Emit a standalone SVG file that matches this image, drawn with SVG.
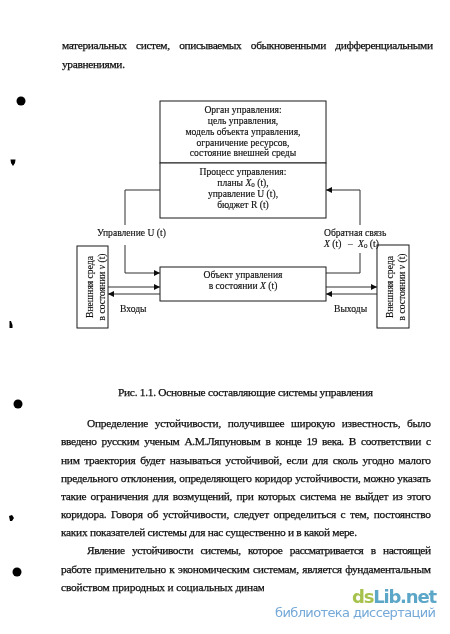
<svg xmlns="http://www.w3.org/2000/svg" width="450" height="634" viewBox="0 0 450 634">
<style>
text{font-family:"Liberation Serif","Noto Sans CJK SC",serif;fill:#111}
.p{font-size:11.4px;stroke:#111;stroke-width:.25}
.c{font-size:9.6px;text-anchor:middle;stroke:#111;stroke-width:.15}
.l{font-size:9.6px;stroke:#111;stroke-width:.15}
.b{fill:#fff;stroke:#1a1a1a;stroke-width:1}
.w{fill:none;stroke:#1a1a1a;stroke-width:.9}
.i{font-style:italic}
.s{font-size:7px}
</style>
<defs>
<marker id="a" markerWidth="7" markerHeight="6" refX="6" refY="3" orient="auto" markerUnits="userSpaceOnUse"><path d="M0 0L6 3L0 6Z" fill="#111"/></marker>
<clipPath id="cut"><rect x="0" y="575" width="264" height="25"/></clipPath>
<filter id="soft" x="0" y="0" width="100%" height="100%"><feGaussianBlur stdDeviation=".3"/></filter>
</defs>
<rect width="450" height="634" fill="#fff"/>
<g filter="url(#soft)">
<g id="page-top">
<text class="p" x="62" y="49" textLength="371" word-spacing="7">материальных систем, описываемых обыкновенными дифференциальными</text>
<text class="p" x="62" y="68" textLength="63">уравнениями.</text>
</g>
<g id="connectors">
<path class="w" d="M160 190H125V225"/>
<path class="w" d="M360 225V190H326" marker-end="url(#a)"/>
<path class="w" d="M125 245V273H160" marker-end="url(#a)"/>
<path class="w" d="M326 273H360V253"/>
<path class="w" d="M108 287H160" marker-end="url(#a)"/>
<path class="w" d="M160 294H108" marker-end="url(#a)"/>
<path class="w" d="M326 287H377" marker-end="url(#a)"/>
<path class="w" d="M377 294H326" marker-end="url(#a)"/>
</g>
<g id="organ">
<rect class="b" x="160" y="101" width="166" height="62"/>
<text class="c" x="243" y="113">Орган управления:</text>
<text class="c" x="243" y="124">цель управления,</text>
<text class="c" x="243" y="135">модель объекта управления,</text>
<text class="c" x="243" y="146">ограничение ресурсов,</text>
<text class="c" x="243" y="156">состояние внешней среды</text>
</g>
<g id="process">
<rect class="b" x="160" y="163" width="166" height="55"/>
<text class="c" x="243" y="175">Процесс управления:</text>
<text class="c" x="243" y="186">планы <tspan class="i">X</tspan><tspan class="s" dy="1">0</tspan><tspan dy="-1"> (t),</tspan></text>
<text class="c" x="243" y="197">управление U (t),</text>
<text class="c" x="243" y="208">бюджет R (t)</text>
</g>
<g id="object">
<rect class="b" x="160" y="267" width="166" height="34"/>
<text class="c" x="243" y="277.500">Объект управления</text>
<text class="c" x="243" y="288.500">в состоянии <tspan class="i">X</tspan> (t)</text>
</g>
<g id="env-left">
<rect class="b" x="77" y="246" width="31" height="82"/>
<g transform="translate(93 287) rotate(-90)">
<text class="c" x="0" y="0">Внешняя среда</text>
<text class="c" x="0" y="12">в состоянии <tspan class="i">v</tspan> (t)</text>
</g>
</g>
<g id="env-right">
<rect class="b" x="377" y="245" width="32" height="83"/>
<g transform="translate(393 287) rotate(-90)">
<text class="c" x="0" y="0">Внешняя среда</text>
<text class="c" x="0" y="12">в состоянии <tspan class="i">v</tspan> (t)</text>
</g>
</g>
<g id="labels">
<text class="l" x="97" y="236">Управление U (t)</text>
<text class="l" x="324" y="236">Обратная связь</text>
<text class="l" y="247"><tspan class="i" x="324">X</tspan><tspan> (t)</tspan><tspan x="348">–</tspan><tspan class="i" x="358">X</tspan><tspan class="s" dy="1">0</tspan><tspan dy="-1"> (t)</tspan></text>
<text class="l" x="120" y="312">Входы</text>
<text class="l" x="334" y="312">Выходы</text>
</g>
<g id="page-bottom">
<text class="p" x="118" y="396" textLength="255">Рис. 1.1. Основные составляющие системы управления</text>
<text class="p" x="87" y="427" textLength="344" word-spacing="4">Определение устойчивости, получившее широкую известность, было</text>
<text class="p" x="61" y="445" textLength="370" word-spacing="2.500">введено русским ученым А.М.Ляпуновым в конце 19 века. В соответствии с</text>
<text class="p" x="61" y="464" textLength="370" word-spacing="2">ним траектория будет называться устойчивой, если для сколь угодно малого</text>
<text class="p" x="61" y="482" textLength="370" word-spacing=".5">предельного отклонения, определяющего коридор устойчивости, можно указать</text>
<text class="p" x="61" y="500" textLength="370" word-spacing="2">такие ограничения для возмущений, при которых система не выйдет из этого</text>
<text class="p" x="61" y="518" textLength="370" word-spacing="2">коридора. Говоря об устойчивости, следует определиться с тем, постоянство</text>
<text class="p" x="61" y="536" textLength="296">каких показателей системы для нас существенно и в какой мере.</text>
<text class="p" x="87" y="554" textLength="344" word-spacing="5">Явление устойчивости системы, которое рассматривается в настоящей</text>
<text class="p" x="61" y="573" textLength="370" word-spacing="1">работе применительно к экономическим системам, является фундаментальным</text>
<g clip-path="url(#cut)"><text class="p" x="61" y="591" textLength="210">свойством природных и социальных динами</text></g>
</g>
<g id="marks" fill="#000">
<circle cx="21" cy="101" r="4.500"/>
<path d="M10.500 159.500H15.500L15 163L13 166L11 163Z"/>
<path d="M9.500 321L11 321L12.500 325L12.500 328L9.500 328Z"/>
<circle cx="18" cy="404" r="4.500"/>
<path d="M9 516L12 515L14 518L12 521L10 521Z"/>
<circle cx="17" cy="572" r="4.500"/>
</g>
<g id="watermark">
<text x="352" y="603" style="font-family:'DejaVu Sans',sans-serif;font-size:18px;font-weight:bold;fill:#a6c24e;stroke:none" textLength="85"><tspan>ds</tspan><tspan style="fill:#5ba6c8">Lib.net</tspan></text>
<text x="275" y="617" style="font-family:'DejaVu Sans',sans-serif;font-size:13px;fill:#74a9d8" textLength="161">библиотека диссертаций</text>
</g>
</g>
</svg>
